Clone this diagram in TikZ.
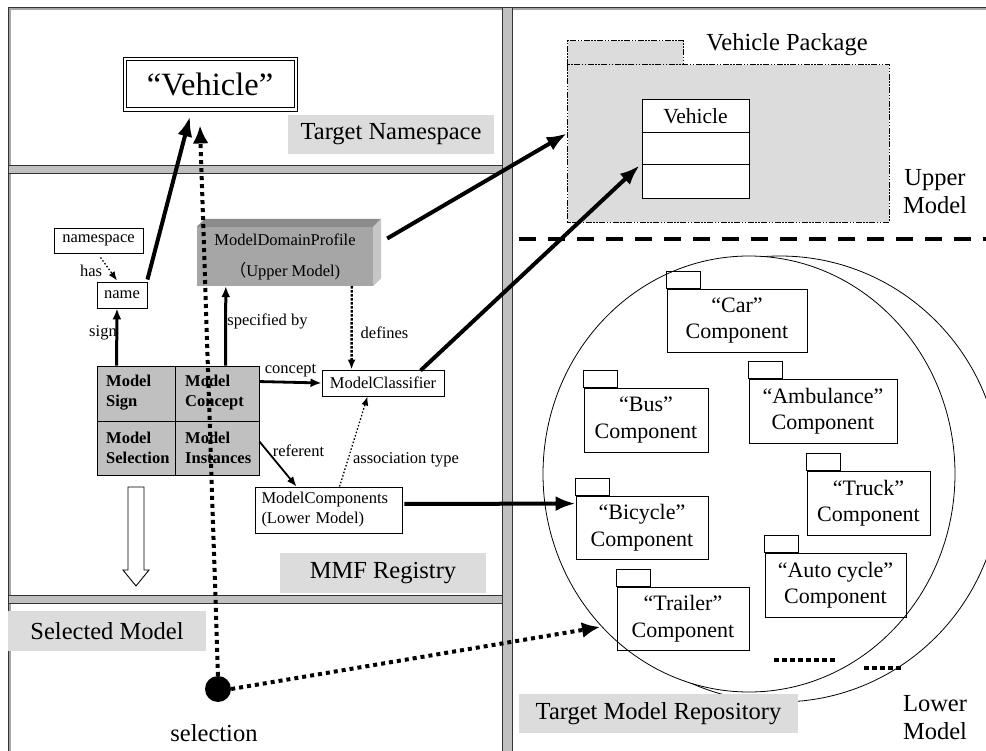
\documentclass[tikz,border=0pt]{standalone}
\usepackage{fontspec}
\setmainfont{Liberation Serif}
\newfontfamily\cjkfont{Noto Sans CJK SC}
\usetikzlibrary{arrows.meta,calc}
\definecolor{lgray}{HTML}{DCDCDC}
\definecolor{mgray}{HTML}{C0C0C0}
\definecolor{frontg}{HTML}{A6A6A6}
\definecolor{topg}{HTML}{8C8C8C}
\definecolor{sideg}{HTML}{C6C6C6}
\definecolor{frameg}{HTML}{333333}
\tikzset{
  sm/.style={font=\fontsize{16.5}{19}\selectfont, inner sep=0pt},
  bigt/.style={font=\fontsize{24.5}{28}\selectfont, inner sep=0pt, align=center},
  glabel/.style={fill=lgray, font=\fontsize{24.5}{28}\selectfont, inner sep=0pt},
  box/.style={draw, line width=0.9pt, inner sep=0pt, fill=white, font=\fontsize{16.5}{19}\selectfont},
  cell/.style={font=\bfseries\fontsize{16.5}{20}\selectfont, align=left, inner sep=0pt, anchor=west},
  comp/.style={draw, line width=0.9pt, inner sep=0pt, align=center, font=\fontsize{22}{26.5}\selectfont},
  tab/.style={draw, line width=0.9pt},
  bar/.style={draw=frameg, fill=mgray, line width=0.9pt},
  thickarr/.style={line width=4pt, -{Latex[length=20pt,width=15pt]}},
  selarr/.style={line width=4pt, dash pattern=on 4pt off 4pt, -{Latex[length=18pt,width=16pt]}},
  medarr/.style={line width=3pt, -{Latex[length=11pt,width=9pt]}},
  thinarr/.style={line width=1.8pt, -{Latex[length=10pt,width=8pt]}},
  dotarr/.style={line width=2.4pt, dash pattern=on 2.4pt off 1.6pt, -{Latex[length=10pt,width=8pt]}},
  finedot/.style={line width=1.3pt, dash pattern=on 1.5pt off 2pt, -{Latex[length=9pt,width=7pt]}},
  pkgline/.style={line width=0.7pt, dash pattern=on 6pt off 1.5pt on 1.5pt off 1.5pt on 1.5pt off 1.5pt},
}
\begin{document}
\begin{tikzpicture}[x=1pt,y=-1pt]
\useasboundingbox (0,0) rectangle (986,751);
\fill[white] (0,0) rectangle (986,751);

% frame
\draw[line width=2pt, gray!70] (9,9) -- (986,9);
\draw[line width=2pt, gray!70] (10,8) -- (10,751);
\draw[line width=1.3pt, frameg] (8.5,7.5) -- (986,7.5);
\draw[line width=1.3pt, frameg] (8.5,7.5) -- (8.5,751);
% separating bars
\draw[bar] (502,7.5) rectangle (512,752);
\draw[bar] (8.5,165) rectangle (502,173);
\draw[bar] (8.5,595) rectangle (502,603);

% ellipses of repository
\begin{scope}
\clip (0,0) rectangle (986,751);
\draw[line width=0.8pt, fill=white] (780,479) ellipse [x radius=221, y radius=223];
\draw[line width=0.8pt, fill=white] (749,474) ellipse [x radius=206, y radius=218];
\end{scope}

% target namespace part
\node[draw, line width=0.9pt, minimum width=174pt, minimum height=54pt, inner sep=0pt, font=\fontsize{32.5}{36}\selectfont] (vehicle) at (210,84) {“Vehicle”};
\draw[line width=0.9pt] ($(vehicle.north west)+(3.5,3.5)$) rectangle ($(vehicle.south east)+(-3.5,-3.5)$);
\node[glabel, minimum width=206pt, minimum height=39pt] (tns) at (391,134.5) {Target Namespace};

% registry part
\node[box, minimum width=89pt, minimum height=25pt] (ns) at (98.5,240.5) {namespace};
\node[box, minimum width=50pt, minimum height=26pt] (name) at (122,295) {name};
\node[sm] (has) at (91,271) {has};

\node[fill=frontg, minimum width=176pt, minimum height=59pt, inner sep=0pt, align=center, font=\fontsize{16.5}{31}\selectfont] (mdp) at (285,256.5) {ModelDomainProfile\\{\cjkfont （}Upper Model)};
\fill[topg] (mdp.north west) -- ++(8,-8) -- ($(mdp.north east)+(8,-8)$) -- (mdp.north east) -- cycle;
\fill[sideg] (mdp.north east) -- ++(8,-8) -- ($(mdp.south east)+(8,-8)$) -- (mdp.south east) -- cycle;

\node[draw, fill=mgray, line width=0.9pt, minimum width=162pt, minimum height=109pt, inner sep=0pt] (grid) at (178,420.5) {};
\draw[line width=0.9pt] ($(grid.north west)+(79,0)$) -- ($(grid.south west)+(79,0)$);
\draw[line width=0.9pt] ($(grid.west)+(0,0.5)$) -- ($(grid.east)+(0,0.5)$);
\node[cell] (csign) at (106,393) {Model\\Sign};
\node[cell] (cconc) at (185,393) {Model\\Concept};
\node[cell] (csel) at (106,448) {Model\\Selection};
\node[cell] (cinst) at (185,448) {Model\\Instances};

\node[sm] (lsign) at (103,333) {sign};
\node[sm] (lspec) at (267.5,321) {specified by};
\node[sm] (ldef) at (384.5,333) {defines};
\node[sm] (lconc) at (290.5,371) {concept};
\node[sm] (lref) at (298.5,451) {referent};
\node[sm] (lass) at (406,460) {association type};

\node[box, minimum width=122pt, minimum height=26pt] (mc) at (383,383) {ModelClassifier};
\node[box, text width=134pt, inner xsep=6.5pt, minimum height=46pt, align=left, font=\fontsize{16.5}{20}\selectfont] (mcomp) at (328.5,510) {ModelComponents\\(Lower Model)};

% hollow arrow
\draw[line width=0.9pt, fill=white] (128,487) -- (144,487) -- (144,570) -- (149,570) -- (136,586) -- (123,570) -- (128,570) -- cycle;

\node[glabel, minimum width=206pt, minimum height=40pt] (mmf) at (383,573) {MMF Registry};
\node[glabel, minimum width=198pt, minimum height=40pt] (selm) at (107,631) {Selected Model};

\node[circle, fill=black, minimum size=26pt, inner sep=0pt] (sel) at (218,689) {};
\node[bigt] (lsel) at (214,733) {selection};

% upper model part
\node[fill=lgray, minimum width=115pt, minimum height=24pt, inner sep=0pt] (pkgtab) at (625.5,53) {};
\node[fill=lgray, minimum width=321pt, minimum height=157pt, inner sep=0pt] (pkg) at (728.5,143.5) {};
\draw[pkgline] (pkgtab.south west) -- (pkgtab.north west) -- (pkgtab.north east) -- (pkgtab.south east);
\draw[pkgline] (pkg.north west) rectangle (pkg.south east);
\node[bigt] (lpkg) at (787,45) {Vehicle Package};
\node[box, minimum width=107pt, minimum height=99pt] (vcls) at (695.5,148.5) {};
\draw[line width=0.9pt] ($(vcls.north west)+(0,33.5)$) -- ($(vcls.north east)+(0,33.5)$);
\draw[line width=0.9pt] ($(vcls.north west)+(0,65.5)$) -- ($(vcls.north east)+(0,65.5)$);
\node[inner sep=0pt, font=\fontsize{21.5}{24}\selectfont] (lvcls) at (695.5,116) {Vehicle};
\node[bigt] (lupper) at (935,192) {Upper\\Model};

\draw[line width=4pt, dash pattern=on 17pt off 12pt] (519,239) -- (986,239);

% components
\node[comp, minimum width=140pt, minimum height=63pt] (car) at (737,320.5) {“Car”\\Component};
\node[comp, minimum width=124pt, minimum height=64pt] (bus) at (646,420) {“Bus”\\Component};
\node[comp, minimum width=148pt, minimum height=64pt] (amb) at (823,411) {“Ambulance”\\Component};
\node[comp, minimum width=123pt, minimum height=64pt] (truck) at (868.5,503) {“Truck”\\Component};
\node[comp, minimum width=132pt, minimum height=63pt] (bic) at (642,527.5) {“Bicycle”\\Component};
\node[comp, minimum width=141pt, minimum height=64pt] (auto) at (835.5,585) {“Auto cycle”\\Component};
\node[comp, minimum width=132pt, minimum height=63pt] (trail) at (683,618.5) {“Trailer”\\Component};
\foreach \c in {car,bus,amb,truck,bic,auto,trail}
  \draw[tab] (\c.north west) rectangle ++(34,-17);

\draw[line width=4pt, dash pattern=on 5pt off 3pt] (774,660) -- (837,660);
\draw[line width=4pt, dash pattern=on 5pt off 3pt] (864,668) -- (902,668);

\node[glabel, minimum width=279pt, minimum height=39pt] (tmr) at (658.5,713.5) {Target Model Repository};
\node[bigt] (llower) at (935,717.5) {Lower\\Model};

% connectors
\draw[finedot] ($(ns.south)+(2,4)$) -- ($(name.north)+(-5,-1)$);
\draw[thickarr] ($(name.north east)+(0,-2)$) -- ($(vehicle.south)+(-20,5)$);
\draw[medarr] ($(grid.north west)+(20,0)$) -- ($(name.south)+(-5,0)$);
\draw[medarr] ($(grid.north west)+(129,0)$) -- ($(mdp.south west)+(29,0)$);
\draw[dotarr] ($(mdp.south west)+(155,0)$) -- ($(mc.north west)+(30,0)$);
\draw[medarr, line width=2.8pt] ($(grid.north east)+(0,16)$) -- (mc.west);
\draw[thinarr] ($(grid.north east)+(0,76)$) -- ($(mcomp.north west)+(42,0)$);
\draw[finedot] ($(mcomp.north west)+(85,0)$) -- ($(mc.south west)+(46,0)$);
\draw[thickarr] ($(mdp.east)+(14,-18)$) -- ($(pkg.west)+(-1,-10)$);
\draw[thickarr] ($(mc.north west)+(99,1)$) -- ($(vcls.west)+(-2,17)$);
\draw[thickarr] ($(mcomp.east)+(2,-6)$) -- ($(bic.north west)+(0,8)$);
\draw[selarr] (sel.north) -- ($(vehicle.south)+(-10,14)$);
\draw[selarr] (sel.east) -- (600,627);
\end{tikzpicture}
\end{document}
